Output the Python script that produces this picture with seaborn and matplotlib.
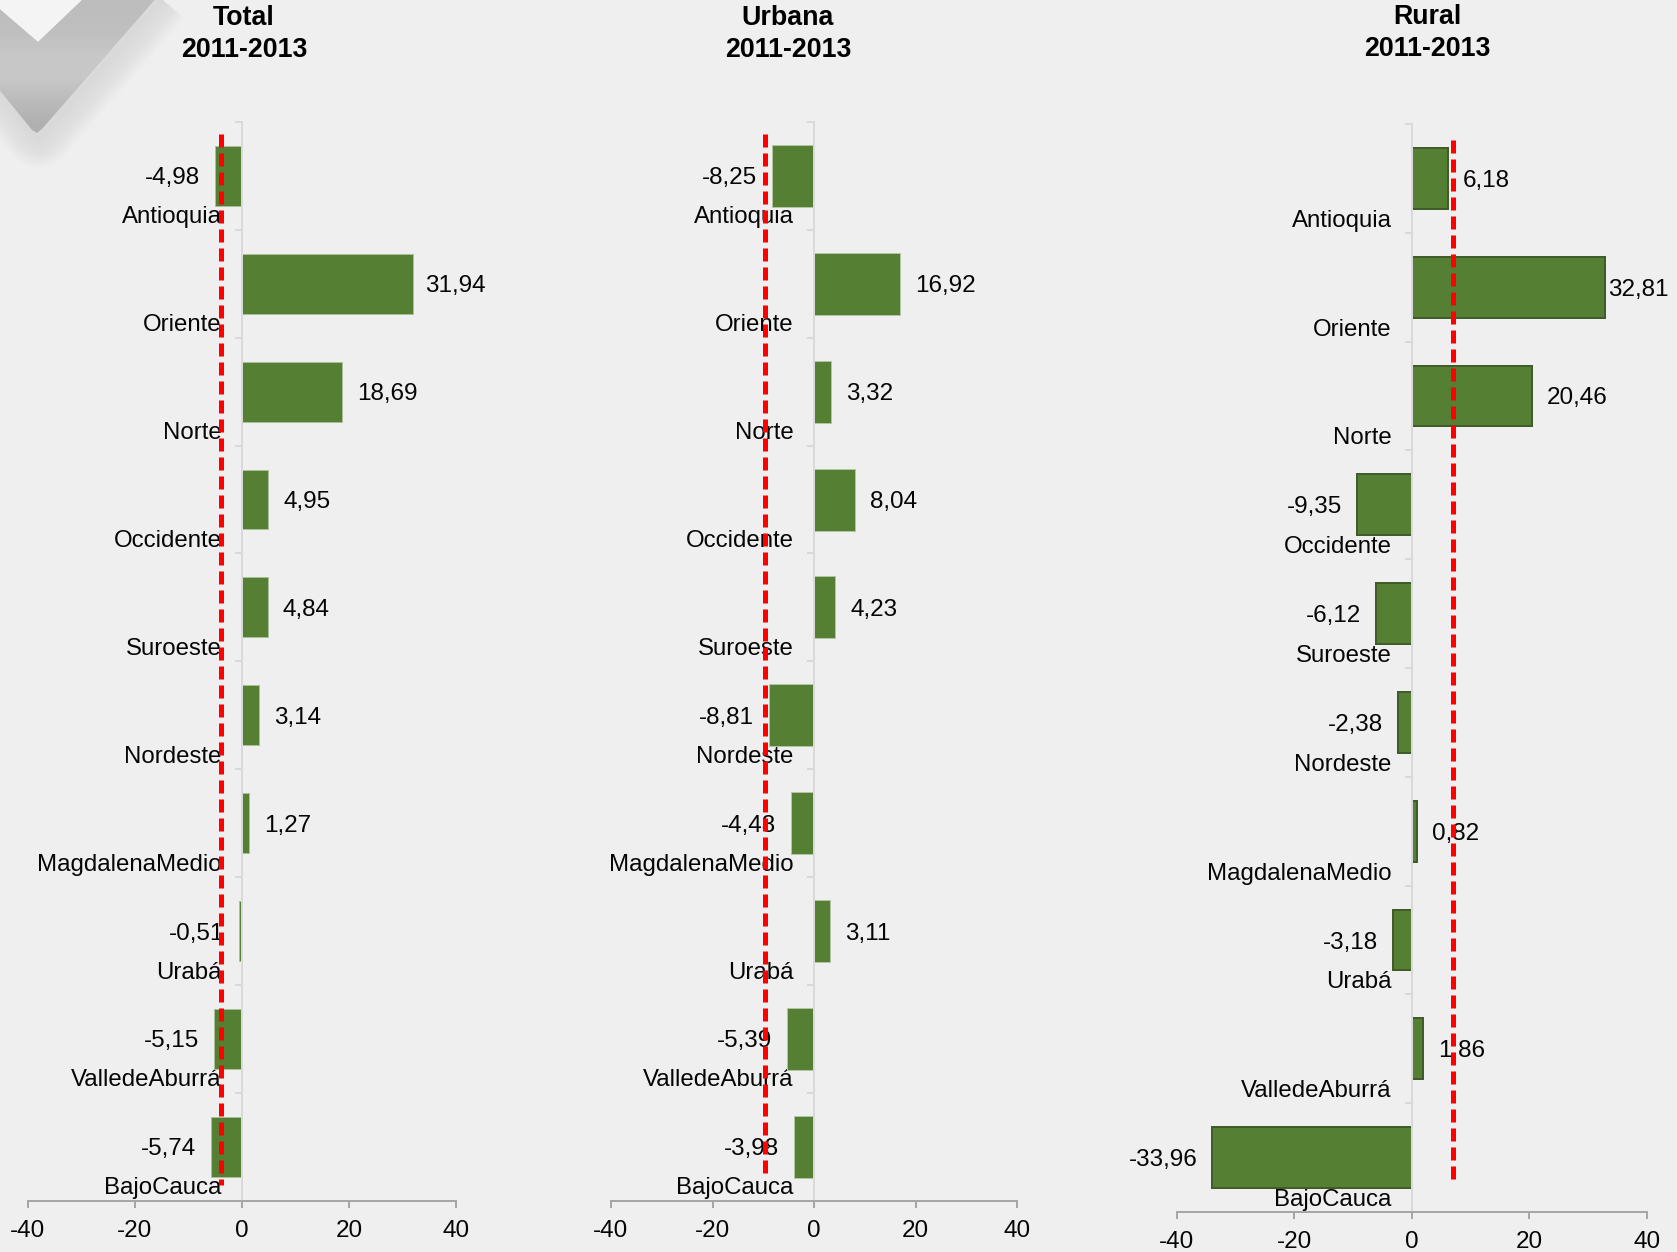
import numpy as np
import pandas as pd
import matplotlib
matplotlib.use('Agg')
import matplotlib.pyplot as plt
from matplotlib.patches import Polygon
from matplotlib.transforms import ScaledTranslation
import seaborn as sns

regions = ['Antioquia', 'Oriente', 'Norte', 'Occidente', 'Suroeste', 'Nordeste',
           'MagdalenaMedio', 'Urabá', 'ValledeAburrá', 'BajoCauca']
total = [-4.98, 31.94, 18.69, 4.95, 4.84, 3.14, 1.27, -0.51, -5.15, -5.74]
urbana = [-8.25, 16.92, 3.32, 8.04, 4.23, -8.81, -4.48, 3.11, -5.39, -3.98]
rural = [6.18, 32.81, 20.46, -9.35, -6.12, -2.38, 0.82, -3.18, 1.86, -33.96]
xticks = [-40, -20, 0, 20, 40]

# red reference line of each panel
ref_total = -3.9
ref_urbana = -9.65
ref_rural = 7.0

W, H = 1677, 1252
BG = '#efefef'
GREEN = '#558033'

sns.set_theme(style='white')
plt.rcParams['font.family'] = ['Liberation Sans', 'DejaVu Sans']
plt.rcParams['text.color'] = '#050505'
plt.rcParams['axes.unicode_minus'] = False

fig = plt.figure(figsize=(W / 100, H / 100), dpi=100, facecolor=BG)


def px(v):
    return v * 72 / 100


def draw_check():
    """Grey check mark in the top left corner, behind the charts."""
    ax = fig.add_axes([0, 0, 1, 1], zorder=0)
    outline = [(-20, -8), (38, 42), (82, 0), (100, -20), (172, -20), (42, 129), (37, 133),
               (32, 130), (-20, 66)]

    # soft shadow below the stroke
    for lw in range(60, 2, -4):
        ax.add_patch(Polygon([(x + 2, y + 5) for x, y in outline], closed=True, lw=px(lw),
                             fc='none', ec='#8c8c8c', alpha=0.011, joinstyle='round', zorder=1))

    # lighter area inside the tick
    ax.add_patch(Polygon([(0, 0), (82, 0), (38, 42), (0, 10)], closed=True, fc='#f4f4f4', lw=0,
                         zorder=2))

    # stroke with a slight vertical gradient
    shades = np.array([0.74, 0.75, 0.78, 0.78, 0.73, 0.69]).reshape(-1, 1)
    grad = ax.imshow(shades, cmap='gray', vmin=0, vmax=1, aspect='auto', interpolation='bilinear',
                     extent=(0, 200, 135, 0), zorder=3)
    clip = Polygon(outline, closed=True, transform=ax.transData, fc='none', lw=0)
    ax.add_patch(clip)
    grad.set_clip_path(clip)

    ax.set_xlim(0, W)
    ax.set_ylim(H, 0)
    ax.axis('off')


def draw_panel(values, ref, left, right, top, bottom, bar_w, edge, edge_px, ref_y, long_gap, label_drop):
    ax = fig.add_axes([left / W, 1 - bottom / H, (right - left) / W, (bottom - top) / H],
                      zorder=1)
    ax.patch.set_alpha(0)

    df = pd.DataFrame({'region': regions, 'value': values})
    sns.barplot(data=df, y='region', x='value', orient='h', color=GREEN, saturation=1,
                width=bar_w, edgecolor=edge, linewidth=px(edge_px), ax=ax)

    ax.set_xlim(-40, 40)
    ax.set_ylim(9.5, -0.5)
    ax.set_xlabel('')
    ax.set_ylabel('')

    # value labels next to the bars, decimal comma
    for i, v in enumerate(values):
        gap = long_gap if v > 30 else 15
        ax.annotate(f'{v:.2f}'.replace('.', ','), (v, i),
                    xytext=(px(gap) if v > 0 else -px(gap), 0), textcoords='offset points',
                    ha='left' if v > 0 else 'right', va='center_baseline',
                    fontsize=17.5, zorder=3)

    # dashed reference line
    ax.plot([ref, ref], ref_y, color='#ff0000', lw=px(5), dashes=(2.6, 1.2),
            dash_capstyle='butt', zorder=4)

    sns.despine(ax=ax, top=True, right=True)
    ax.spines['left'].set_position(('data', 0))
    ax.spines['left'].set_color('#d9d9d9')
    ax.spines['left'].set_linewidth(px(2))
    ax.spines['bottom'].set_color('#a6a6a6')
    ax.spines['bottom'].set_linewidth(px(2))

    ax.set_xticks(xticks)
    ax.tick_params(axis='x', bottom=True, length=px(7), width=px(2), color='#a6a6a6',
                   labelsize=17.5, pad=px(12), labelcolor='#050505')
    ax.set_yticks(np.arange(-0.5, 10), minor=True)
    ax.tick_params(axis='y', which='minor', left=True, length=px(7), width=px(2), color='#d9d9d9')
    ax.tick_params(axis='y', which='major', left=False, labelsize=17.3, pad=px(12),
                   labelcolor='#050505')

    # category labels sit below their bars
    shift = ScaledTranslation(0, -label_drop / 100, fig.dpi_scale_trans)
    for label in ax.get_yticklabels():
        label.set_transform(label.get_transform() + shift)
    return ax


draw_check()

draw_panel(total, ref_total, 28, 456, 122, 1200.7, 0.555, '#a9bf97', 1, [-0.39, 9.35], 12, 39)
draw_panel(urbana, ref_urbana, 611, 1017, 122, 1200.7, 0.575, '#b3c4a3', 1, [-0.39, 9.28], 15, 39)
draw_panel(rural, ref_rural, 1176.7, 1647, 124, 1212, 0.56, '#3f5c2a', 2, [-0.35, 9.2], 3, 40)

for name, cx, cy in [('Total', 244, 34), ('Urbana', 788, 34), ('Rural', 1427, 33)]:
    fig.text(cx / W, 1 - cy / H, f'{name}\n2011-2013', ha='center', va='center',
             fontsize=19.3, fontweight='bold', linespacing=1.33, color='black', zorder=5)

fig.savefig('out.png', dpi=100, facecolor=BG)
